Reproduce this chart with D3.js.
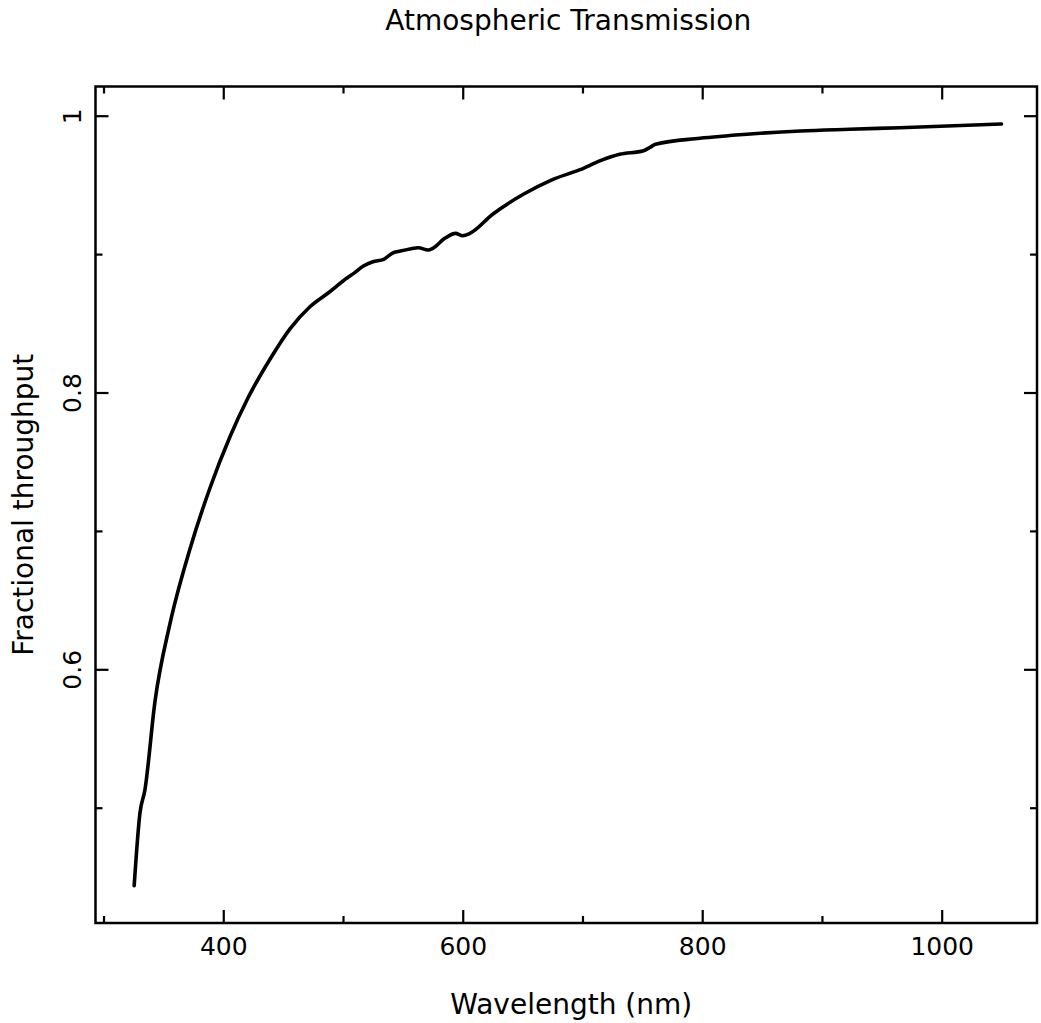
<!DOCTYPE html>
<html>
<head>
<meta charset="utf-8">
<script src="https://cdn.jsdelivr.net/npm/d3@7"></script>
<style>
  body { margin: 0; background: #fff; }
  text { font-family: "DejaVu Sans", sans-serif; fill: #000; }
</style>
</head>
<body>
<div id="chart"></div>
<script>
// wavelength (nm) and fractional throughput
const wavelength = [325.6, 330.4, 334.6, 343, 355.5, 372.2, 388.9, 405.6, 420.6, 439, 455.7, 472.4,
  489, 503, 509, 517, 525, 534, 541, 548, 556, 563, 571, 575, 585, 594, 600, 606, 625, 651, 674, 698, 715,
  731, 751, 756, 761, 798, 840, 882, 923, 965, 1050];
const throughput = [0.4437, 0.496, 0.513, 0.577, 0.633, 0.687, 0.731, 0.768, 0.796, 0.824, 0.846, 0.862,
  0.8728, 0.8825, 0.8861, 0.8914, 0.8945, 0.8962, 0.9006, 0.9022, 0.9037, 0.9046, 0.9030, 0.9042, 0.9114, 0.9150, 0.9133, 0.9150, 0.9288, 0.9434, 0.9535, 0.9610, 0.9675,
  0.9721, 0.9747, 0.9769, 0.9793, 0.9837, 0.9868, 0.9890, 0.9902, 0.9913, 0.9940];
const xMajor = [400, 600, 800, 1000];
const xMinor = [300, 500, 700, 900];
const yMajor = [0.6, 0.8, 1];
const yMinor = [0.5, 0.7, 0.9];

const fullWidth = 1041, fullHeight = 1023;
let margin = { top: 86.5, right: 4, bottom: 100, left: 95.5 };
let width = fullWidth - margin.left - margin.right;
let height = 923 - margin.top;

let data = wavelength.map((w, i) => ({ x: w, y: throughput[i] }));

let x = d3.scaleLinear().domain([293.3, 1079.6]).range([0, width]);
let y = d3.scaleLinear().domain([0.4167, 1.0211]).range([height, 0]);

let svg = d3.select('#chart')
  .append('svg')
  .attr('width', fullWidth)
  .attr('height', fullHeight);

let g = svg.append('g')
  .attr('transform', `translate(${margin.left}, ${margin.top})`);

// axes: ticks point inward on all four sides
function drawAxis(axis, transform) {
  let a = g.append('g').attr('transform', transform).call(axis);
  a.select('.domain').remove();
  a.selectAll('line').attr('stroke', '#000').attr('stroke-width', 2.2);
  a.selectAll('text').style('font-size', '25px').style('font-family', '"DejaVu Sans", sans-serif');
  return a;
}

drawAxis(d3.axisBottom(x).tickValues(xMajor).tickSize(-13).tickPadding(14).tickFormat(d3.format('d')), `translate(0,${height})`);
drawAxis(d3.axisBottom(x).tickValues(xMinor).tickSize(-7).tickFormat(''), `translate(0,${height})`);
drawAxis(d3.axisTop(x).tickValues(xMajor).tickSize(-13).tickFormat(''), 'translate(0,0)');
drawAxis(d3.axisTop(x).tickValues(xMinor).tickSize(-7).tickFormat(''), 'translate(0,0)');
drawAxis(d3.axisRight(y).tickValues(yMajor).tickSize(-13).tickFormat(''), `translate(${width},0)`);
drawAxis(d3.axisRight(y).tickValues(yMinor).tickSize(-7).tickFormat(''), `translate(${width},0)`);
drawAxis(d3.axisLeft(y).tickValues(yMinor).tickSize(-7).tickFormat(''), 'translate(0,0)');

let left = drawAxis(d3.axisLeft(y).tickValues(yMajor).tickSize(-13).tickFormat(d => d3.format('')(d)), 'translate(0,0)');
left.selectAll('text')
  .attr('x', 0).attr('dy', 0)
  .attr('transform', 'translate(-15,0) rotate(-90)')
  .style('text-anchor', 'middle');

g.append('rect')
  .attr('width', width)
  .attr('height', height)
  .attr('fill', 'none')
  .attr('stroke', '#000')
  .attr('stroke-width', 2.5);

let line = d3.line()
  .x(d => x(d.x))
  .y(d => y(d.y))
  .curve(d3.curveMonotoneX);

g.append('path')
  .datum(data)
  .attr('d', line)
  .attr('fill', 'none')
  .attr('stroke', '#000')
  .attr('stroke-width', 3.6)
  .attr('stroke-linejoin', 'round')
  .attr('stroke-linecap', 'round');

// titles
svg.append('text')
  .attr('x', margin.left + width / 2 + 2)
  .attr('y', 30)
  .style('text-anchor', 'middle')
  .style('font-size', '28px')
  .text('Atmospheric Transmission');

svg.append('text')
  .attr('x', margin.left + width / 2 + 5)
  .attr('y', 1014)
  .style('text-anchor', 'middle')
  .style('font-size', '28px')
  .text('Wavelength (nm)');

svg.append('text')
  .attr('transform', `translate(33, ${margin.top + height / 2}) rotate(-90)`)
  .style('text-anchor', 'middle')
  .style('font-size', '28px')
  .text('Fractional throughput');
</script>
</body>
</html>
